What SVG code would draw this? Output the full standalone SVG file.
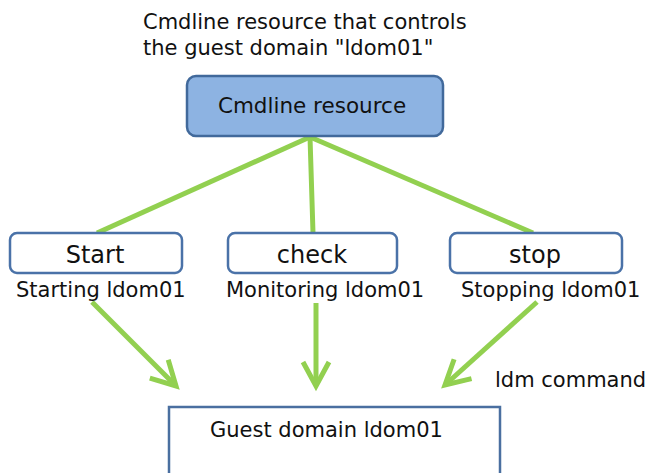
<svg xmlns="http://www.w3.org/2000/svg" width="648" height="473" viewBox="0 0 648 473">
<defs>
<style>
text{font-family:"DejaVu Sans","Liberation Sans",sans-serif;fill:#111}
.lbl{font-size:21px}
.bl{font-size:24px;text-anchor:middle}
.op{fill:#fff;stroke:#4a72a8;stroke-width:2.5}
.con{stroke:#92d050;stroke-width:5;fill:none}
</style>
<marker id="ah" markerUnits="userSpaceOnUse" orient="auto" markerWidth="40" markerHeight="40" viewBox="-30 -20 40 40" refX="0" refY="0" overflow="visible">
<path d="M-24,-13 L0,0 L-24,13" fill="none" stroke="#92d050" stroke-width="5" stroke-linejoin="miter"/>
</marker>
</defs>
<rect width="648" height="473" fill="#fff"/>
<g id="caption">
<text class="lbl" x="143" y="29">Cmdline resource that controls</text>
<text class="lbl" x="143" y="55">the guest domain "ldom01"</text>
</g>
<g id="connectors">
<line class="con" x1="310" y1="137" x2="97" y2="233"/>
<line class="con" x1="310" y1="137" x2="313" y2="233"/>
<line class="con" x1="310" y1="137" x2="533" y2="233"/>
<line class="con" x1="92" y1="302" x2="176" y2="386" marker-end="url(#ah)"/>
<line class="con" x1="316" y1="303" x2="316" y2="386" marker-end="url(#ah)"/>
<line class="con" x1="537" y1="302" x2="445" y2="385" marker-end="url(#ah)"/>
<text class="lbl" x="495" y="387">ldm command</text>
</g>
<g id="cmdline">
<rect x="187" y="76" width="256" height="60" rx="9" fill="#8db3e2" stroke="#41699b" stroke-width="2.5"/>
<text x="312" y="113" style="font-size:21.5px;text-anchor:middle">Cmdline resource</text>
</g>
<g id="start">
<rect class="op" x="10" y="233" width="172" height="40" rx="7"/>
<text class="bl" x="95" y="263">Start</text>
<text class="lbl" x="16" y="297">Starting ldom01</text>
</g>
<g id="check">
<rect class="op" x="228" y="233" width="169" height="40" rx="7"/>
<text class="bl" x="312" y="263">check</text>
<text class="lbl" x="226" y="297">Monitoring ldom01</text>
</g>
<g id="stop">
<rect class="op" x="450" y="233" width="172" height="40" rx="7"/>
<text class="bl" x="535" y="263">stop</text>
<text class="lbl" x="461" y="297">Stopping ldom01</text>
</g>
<g id="guest">
<rect x="169" y="407" width="331" height="90" fill="#fff" stroke="#4a6fa0" stroke-width="2.5"/>
<text x="210" y="437" style="font-size:21px">Guest domain ldom01</text>
</g>
</svg>
